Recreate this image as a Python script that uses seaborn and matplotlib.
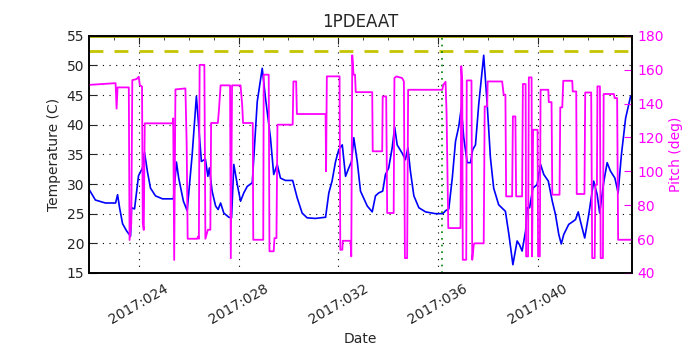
import matplotlib
matplotlib.use('Agg')
import matplotlib.pyplot as plt
import matplotlib.dates as mdates
import matplotlib.ticker as mticker
import pandas as pd
import seaborn as sns

# Day-of-year (2017) vs temperature
temp_day = [22.02, 22.26, 22.66, 23.07, 23.15, 23.23, 23.35, 23.51, 23.67, 23.71,
            23.83, 23.99, 24.15, 24.23, 24.35, 24.47, 24.67, 24.95, 25.39, 25.51,
            25.60, 25.79, 25.94, 26.14, 26.31, 26.41, 26.51, 26.67, 26.77, 26.83,
            26.94, 27.08, 27.18, 27.28, 27.41, 27.61, 27.72, 27.81, 27.95, 28.08,
            28.21, 28.35, 28.55, 28.75, 28.95, 29.08, 29.28, 29.41, 29.55, 29.68,
            29.88, 30.17, 30.35, 30.55, 30.75, 31.08, 31.49, 31.62, 31.75, 31.89,
            32.02, 32.16, 32.29, 32.42, 32.53, 32.62, 32.76, 32.89, 33.16, 33.36,
            33.49, 33.62, 33.78, 33.89, 34.02, 34.16, 34.26, 34.36, 34.56, 34.69,
            34.79, 34.89, 35.03, 35.23, 35.50, 35.90, 36.19, 36.30, 36.43, 36.57,
            36.70, 36.83, 36.93, 37.03, 37.17, 37.30, 37.39, 37.50, 37.63, 37.83,
            37.97, 38.10, 38.23, 38.43, 38.70, 38.84, 39.00, 39.17, 39.26, 39.37,
            39.51, 39.57, 39.67, 39.80, 39.97, 40.11, 40.24, 40.42, 40.58, 40.71,
            40.84, 40.94, 41.04, 41.24, 41.38, 41.51, 41.62, 41.71, 41.88, 42.04,
            42.24, 42.38, 42.48, 42.65, 42.78, 42.91, 43.09, 43.22, 43.35, 43.52,
            43.72]
temp_val = [29.0, 27.3, 26.8, 26.8, 28.2, 26.0, 23.3, 22.1, 21.2, 26.0,
            25.8, 31.4, 32.7, 35.3, 32.0, 29.3, 28.0, 27.5, 27.5, 33.7,
            31.0, 27.1, 25.5, 34.9, 44.8, 39.4, 33.8, 34.2, 31.3, 32.7,
            28.8, 26.3, 25.7, 26.8, 25.1, 24.4, 24.3, 33.3, 29.9, 27.1,
            28.5, 29.6, 30.2, 43.9, 49.5, 44.5, 37.8, 31.6, 33.3, 31.0,
            30.6, 30.6, 27.7, 25.1, 24.3, 24.2, 24.4, 28.5, 30.5, 33.8,
            35.8, 36.6, 31.3, 32.7, 33.8, 37.8, 33.8, 28.8, 26.3, 25.3,
            28.0, 28.5, 28.8, 31.6, 32.7, 36.1, 39.6, 36.6, 35.2, 34.1,
            36.1, 32.2, 28.0, 26.0, 25.3, 25.0, 25.0, 25.5, 25.8, 31.0,
            37.2, 39.7, 42.8, 37.8, 33.6, 33.6, 35.8, 36.6, 43.4, 51.7,
            43.4, 34.4, 29.3, 26.5, 25.4, 21.5, 16.4, 20.4, 19.8, 18.7,
            22.1, 26.0, 26.0, 29.3, 29.9, 33.3, 31.6, 30.5, 27.1, 24.8,
            21.5, 19.9, 21.5, 23.2, 23.6, 24.0, 25.3, 23.7, 20.9, 24.8,
            30.5, 28.2, 25.1, 30.5, 33.6, 32.2, 31.0, 28.5, 34.9, 41.1,
            44.8]

# Day-of-year vs pitch
pitch_day = [22.02, 23.07, 23.11, 23.15, 23.60, 23.63, 23.70, 23.74, 23.91, 24.00,
             24.04, 24.13, 24.16, 24.20, 24.24, 25.36, 25.38, 25.42, 25.47, 25.87,
             25.92, 25.96, 26.34, 26.38, 26.41, 26.44, 26.63, 26.67, 26.77, 26.87,
             26.90, 27.17, 27.21, 27.28, 27.66, 27.69, 27.74, 28.08, 28.15, 28.18,
             28.57, 28.59, 28.99, 29.01, 29.21, 29.24, 29.41, 29.44, 29.52, 29.56,
             30.17, 30.20, 30.31, 30.34, 31.49, 31.51, 31.54, 32.05, 32.08, 32.16,
             32.18, 32.49, 32.52, 32.56, 32.61, 32.67, 32.70, 33.36, 33.38, 33.76,
             33.78, 33.92, 33.96, 34.22, 34.25, 34.33, 34.56, 34.63, 34.67, 34.76,
             34.80, 36.17, 36.21, 36.30, 36.34, 36.41, 36.90, 36.93, 36.97, 36.99,
             37.13, 37.15, 37.34, 37.37, 37.43, 37.46, 37.83, 37.87, 37.97, 37.99,
             38.57, 38.63, 38.70, 38.73, 38.97, 39.00, 39.10, 39.13, 39.37, 39.40,
             39.51, 39.53, 39.61, 39.64, 39.75, 39.77, 39.81, 39.99, 40.01, 40.08,
             40.11, 40.42, 40.44, 40.55, 40.58, 40.87, 40.90, 40.98, 41.02, 41.38,
             41.40, 41.54, 41.56, 41.87, 41.90, 42.14, 42.18, 42.28, 42.31, 42.37,
             42.39, 42.49, 42.52, 42.61, 42.64, 43.05, 43.08, 43.18, 43.22, 43.76]
pitch_val = [151.0, 152.0, 137.0, 149.5, 149.5, 59.5, 69.3, 153.8, 154.4, 155.8,
             150.9, 150.0, 69.3, 65.4, 128.3, 128.3, 131.2, 47.7, 148.3, 148.9,
             116.0, 60.2, 60.2, 61.6, 60.2, 162.8, 162.8, 60.2, 65.5, 65.5,
             128.5, 128.5, 135.3, 150.7, 150.7, 48.7, 150.7, 150.7, 138.3, 128.5,
             128.5, 59.6, 59.6, 157.0, 157.0, 52.8, 52.8, 60.6, 60.6, 127.5,
             127.5, 153.0, 153.0, 133.8, 133.8, 100.0, 156.0, 156.0, 53.7, 53.7,
             59.0, 59.0, 49.8, 168.4, 157.0, 157.0, 146.7, 146.7, 111.8, 111.8,
             144.2, 144.2, 75.4, 75.4, 155.0, 156.0, 155.0, 153.0, 48.8, 48.8,
             148.1, 148.1, 151.0, 152.8, 135.0, 66.5, 66.5, 162.0, 153.0, 47.8,
             47.8, 153.6, 153.6, 47.8, 56.7, 57.5, 57.5, 138.3, 138.3, 153.0,
             153.0, 145.2, 145.2, 85.2, 85.2, 132.4, 132.4, 85.2, 85.2, 151.5,
             151.5, 49.8, 49.8, 155.4, 155.4, 49.8, 124.5, 124.5, 49.8, 49.8,
             148.1, 148.1, 140.8, 140.8, 86.2, 86.2, 137.7, 137.7, 153.4, 153.4,
             147.1, 147.1, 86.6, 86.6, 146.5, 146.5, 48.8, 48.8, 92.0, 92.0,
             150.1, 150.1, 48.8, 48.8, 145.6, 145.6, 143.2, 143.2, 59.6, 59.6]

tick_days = [24, 28, 32, 36, 40]
temp_limit = 52.5
temp_max = 55
event_day = 36.16


def doy(days):
    return pd.Timestamp('2017-01-01') + pd.to_timedelta([d - 1 for d in days], unit='D')


df_t = pd.DataFrame({'date': doy(temp_day), 'temp': temp_val})
df_p = pd.DataFrame({'date': doy(pitch_day), 'pitch': pitch_val})

sns.set_style('white')
plt.rcParams['font.family'] = ['DejaVu Sans']
plt.rcParams['xtick.direction'] = 'in'
plt.rcParams['ytick.direction'] = 'in'

fig = plt.figure(figsize=(7, 3.5), dpi=100)
ax = fig.add_axes([0.127, 0.22, 0.776, 0.678])

sns.lineplot(data=df_t, x='date', y='temp', color='b', linewidth=1.2,
             sort=False, estimator=None, ax=ax)
ax.axhline(temp_limit, color='#c4c400', linestyle='--', linewidth=2, dashes=(5, 4))
ax.axhline(temp_max, color='#a8a800', linewidth=2)
ax.axvline(doy([event_day])[0], color='g', linestyle=(0, (1, 3)), linewidth=1.2)

ax.set_ylim(15, 55)
ax.set_xlim(doy([22.0])[0], doy([43.78])[0])
ax.set_yticks(range(15, 56, 5))
ax.xaxis.set_major_locator(mticker.FixedLocator(mdates.date2num(doy(tick_days))))
ax.xaxis.set_minor_locator(mdates.DayLocator())
ax.xaxis.set_major_formatter(mdates.DateFormatter('%Y:%j'))
ax.tick_params(axis='x', which='major', length=6, top=True, labelsize=10, pad=6)
ax.tick_params(axis='x', which='minor', length=3, top=True)
ax.tick_params(axis='y', length=6, labelsize=10)
plt.setp(ax.get_xticklabels(), rotation=30, ha='center')
ax.grid(True, linestyle=(0, (1, 5)), color='k', linewidth=0.8)
ax.set_xlabel('Date', fontsize=10)
ax.set_ylabel('Temperature (C)', fontsize=10)
ax.set_title('1PDEAAT', fontsize=12)

ax2 = ax.twinx()
sns.lineplot(data=df_p, x='date', y='pitch', color='#ff00ff', linewidth=1.3,
             sort=False, estimator=None, ax=ax2)
ax2.set_ylim(40, 180)
ax2.set_yticks(range(40, 181, 20))
ax2.tick_params(axis='y', colors='#ff00ff', length=6, labelsize=10)
ax2.set_ylabel('Pitch (deg)', color='#ff00ff', fontsize=10)

for a in (ax, ax2):
    for s in a.spines.values():
        s.set_color('k')
        s.set_linewidth(1.2)

fig.savefig('out.png', dpi=100)
